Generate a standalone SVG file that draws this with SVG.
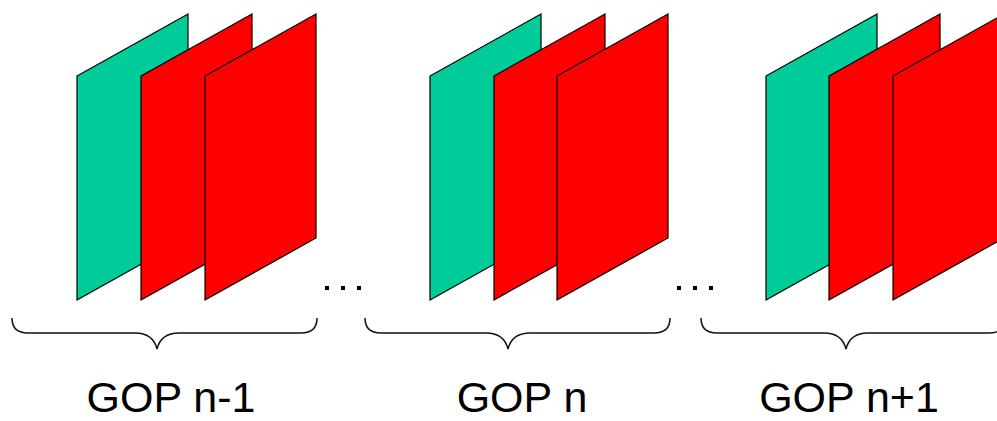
<svg xmlns="http://www.w3.org/2000/svg" width="997" height="421" viewBox="0 0 997 421">
<style>
.i{fill:#00CC99;stroke:#000;stroke-width:1.2;stroke-linejoin:miter}
.p{fill:#FF0000;stroke:#000;stroke-width:1.2;stroke-linejoin:miter}
.br{fill:none;stroke:#111;stroke-width:1.5}
.lbl{font-family:"Liberation Sans",Arial,sans-serif;font-size:43px;fill:#000;text-anchor:middle}
.dot{fill:#000}
</style>
<defs>
<polygon id="plane" points="0,62 111,0 111,224 0,286"/>
</defs>
<rect width="997" height="421" fill="#fff"/>
<g id="gop-n-1">
<use href="#plane" x="77" y="14" class="i"/>
<use href="#plane" x="141" y="14" class="p"/>
<use href="#plane" x="205" y="14" class="p"/>
<text class="lbl" x="171" y="412">GOP n-1</text>
</g>
<g id="gop-n">
<use href="#plane" x="430" y="14" class="i"/>
<use href="#plane" x="494" y="14" class="p"/>
<use href="#plane" x="557" y="14" class="p"/>
<text class="lbl" x="522" y="412">GOP n</text>
</g>
<g id="gop-n1">
<use href="#plane" x="766" y="14" class="i"/>
<use href="#plane" x="829" y="14" class="p"/>
<use href="#plane" x="893" y="14" class="p"/>
<text class="lbl" x="849" y="412">GOP n+1</text>
</g>
<g id="ellipsis1">
<rect class="dot" x="325" y="286" width="4" height="4"/>
<rect class="dot" x="341" y="286" width="4" height="4"/>
<rect class="dot" x="357" y="286" width="4" height="4"/>
</g>
<g id="ellipsis2">
<rect class="dot" x="677" y="286" width="4" height="4"/>
<rect class="dot" x="693" y="286" width="4" height="4"/>
<rect class="dot" x="709" y="286" width="4" height="4"/>
</g>
<g id="connectors">
<path class="br" d="M12 318 Q12 333 28 333 L135 333 Q153 333 157 349 Q161 333 179 333 L301 333 Q317 333 317 318"/>
<path class="br" d="M365 318 Q365 333 381 333 L486 333 Q504 333 508 349 Q512 333 530 333 L654 333 Q670 333 670 318"/>
<path class="br" d="M701 318 Q701 333 717 333 L824 333 Q842 333 846 349 Q850 333 868 333 L989 333 Q1005 333 1005 318"/>
</g>
</svg>
